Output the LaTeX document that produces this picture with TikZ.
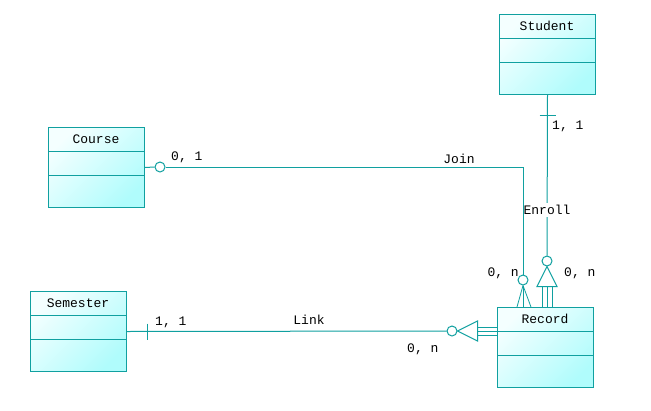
\documentclass[tikz,border=0pt]{standalone}
\usepackage{fontspec}
\setmonofont{Liberation Mono}
\usetikzlibrary{calc}
\definecolor{umlteal}{RGB}{16,160,160}
\definecolor{umlpale}{RGB}{244,255,255}
\definecolor{umlcyan}{RGB}{176,252,252}
\tikzset{
  umlline/.style={draw=umlteal, line width=1pt},
  classbox/.style={umlline, top color=umlpale, bottom color=umlcyan, shading angle=45,
    minimum width=96pt, minimum height=80pt, inner sep=0pt, anchor=north west},
  umltext/.style={font=\ttfamily\fontsize{13}{15}\selectfont, inner sep=0pt},
  endcirc/.style={umlline, circle, minimum size=10pt, inner sep=0pt, fill=white}
}
% class with a title and two empty compartments
\newcommand{\umlclass}[3]{%
  \node[classbox] (#1) at (#2) {};
  \node[umltext] (#1-title) at ($(#1.north west)+(48,12)$) {#3};
  \draw[umlline] ($(#1.north west)+(0,24)$) -- ($(#1.north east)+(0,24)$);
  \draw[umlline] ($(#1.north west)+(0,48)$) -- ($(#1.north east)+(0,48)$);
}
\begin{document}
\begin{tikzpicture}[x=1pt, y=-1pt]
  \fill[white] (0,0) rectangle (651,410);
  \useasboundingbox (0,0) rectangle (651,410);
  % classes
  \umlclass{student}{499,14}{Student}
  \umlclass{course}{48,127}{Course}
  \umlclass{semester}{30,291}{Semester}
  \umlclass{record}{497,307}{Record}

  % Join: Course -- Record
  \node[endcirc] (course-end) at (160,167) {};
  \node[endcirc] (join-end) at (523,280) {};
  \draw[umlline] (course.east) -- (course-end.west);
  \draw[umlline] (course-end.east) -| (join-end.north);
  \foreach \dx in {-6,0,8}
    \draw[umlline, line width=0.8pt] (join-end.south) -- ($(join-end.south |- record.north)+(\dx,0)$);
  \node[umltext, anchor=west] (course-mult) at (171,157) {0, 1};
  \node[umltext] (join-lbl) at (459,159) {Join};
  \node[umltext, anchor=east] (join-mult) at (519,273) {0, n};

  % Enroll: Student -- Record
  \node[endcirc] (enroll-end) at (547,261) {};
  \draw[umlline] (student.south) -- (enroll-end.north);
  \draw[umlline] ($(student.south)+(-8,20)$) -- ++(16,0);
  \draw[umlline] (enroll-end.south) -- ++(10,20) -- ++(-20,0) -- cycle;
  \foreach \dx in {-5,0,5}
    \draw[umlline] ($(enroll-end.south)+(\dx,20)$) -- ($(enroll-end.south |- record.north)+(\dx,0)$);
  \node[umltext, fill=white, inner ysep=2pt] (enroll-lbl) at (547,210) {Enroll};
  \node[umltext, anchor=west] (student-mult) at (552,126) {1, 1};
  \node[umltext, anchor=west] (enroll-mult) at (564,273) {0, n};

  % Link: Semester -- Record
  \node[endcirc] (link-end) at (452,331) {};
  \draw[umlline] (semester.east) -- (link-end.west);
  \draw[umlline] ($(semester.east)+(20,-8)$) -- ++(0,16);
  \draw[umlline] (link-end.east) -- ++(20,-10) -- ++(0,20) -- cycle;
  \foreach \dy in {-4,0,4}
    \draw[umlline] ($(link-end.east)+(20,\dy)$) -- ++(20,0);
  \node[umltext, anchor=west] (semester-mult) at (155,322) {1, 1};
  \node[umltext] (link-lbl) at (309,320) {Link};
  \node[umltext, anchor=west] (link-mult) at (407,349) {0, n};
\end{tikzpicture}
\end{document}
